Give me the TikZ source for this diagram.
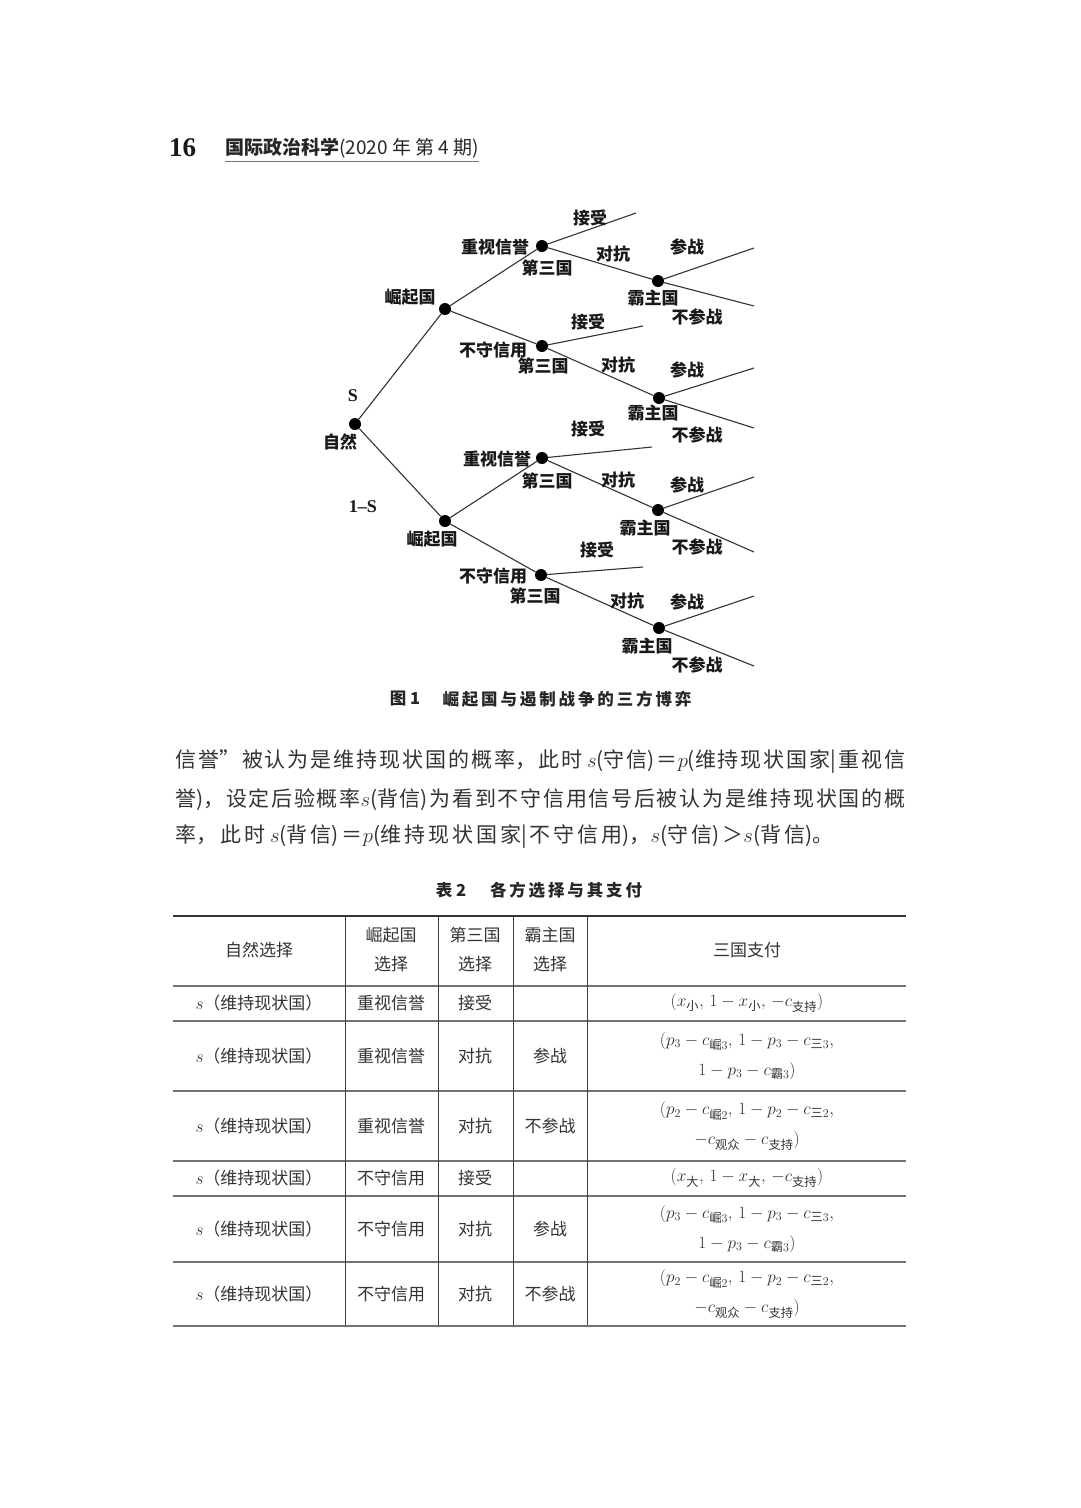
\documentclass[tikz,border=0pt]{standalone}
\usepackage{fontspec}
\usepackage{amsmath}
\newfontfamily\cjk{Noto Sans CJK SC}
\newfontfamily\tnr{Liberation Serif}
\XeTeXlinebreaklocale "zh"
\XeTeXlinebreakskip=0pt plus 3pt minus 1pt
\newcommand\jline[2]{\parbox{#1}{\parfillskip=0pt\relax #2}}
\begin{document}
\begin{tikzpicture}[x=1pt,y=-1pt,
  dot/.style={circle,fill=black,inner sep=0pt,minimum size=12pt},
  br/.style={line width=1.1pt,draw=black!80},
  tl/.style={font=\cjk\bfseries\fontsize{17}{19}\selectfont,inner sep=0pt,text=black!90},
  ltl/.style={font=\tnr\bfseries\fontsize{18}{20}\selectfont,inner sep=0pt,text=black!90},
  body/.style={font=\cjk\fontsize{21}{24}\selectfont,inner sep=0pt,text=black!80,anchor=west},
  captxt/.style={font=\cjk\bfseries\fontsize{16.5}{19}\selectfont,inner sep=0pt,text=black!85},
  cell/.style={font=\cjk\fontsize{17}{29}\selectfont,inner sep=0pt,text=black!80,align=center},
  pay/.style={font=\cjk\fontsize{17.5}{30}\selectfont,inner sep=0pt,text=black!80,align=center},
  hrule/.style={line width=1.5pt,draw=black!55},
  vrule/.style={line width=0.9pt,draw=black!75}]
\fill[white] (0,0) rectangle (1080,1508);
\useasboundingbox (0,0) rectangle (1080,1508);

% header
\node[font=\tnr\bfseries\fontsize{27}{30}\selectfont,inner sep=0pt,anchor=west,text=black!90] (pg) at (169,148) {16};
\node[font=\cjk\fontsize{19}{21}\selectfont,inner sep=0pt,anchor=west,text=black!85] (jt) at (225,148) {{\bfseries 国际政治科学}(2020 年 第 4 期)};
\draw[line width=1pt,black!55] ([yshift=-3pt]jt.south west) -- ([yshift=-3pt]jt.south east);

% tree nodes
\node[dot] (n0) at (355,424) {};
\node[dot] (r1) at (445,309) {};
\node[dot] (r2) at (445,521) {};
\node[dot] (t11) at (542,246) {};
\node[dot] (t12) at (542,346) {};
\node[dot] (t21) at (542,458) {};
\node[dot] (t22) at (541,575) {};
\node[dot] (h11) at (658,281) {};
\node[dot] (h12) at (659,398) {};
\node[dot] (h21) at (658,510) {};
\node[dot] (h22) at (659,628) {};
\coordinate (a11) at (636,213);
\coordinate (a12) at (643,326);
\coordinate (a21) at (652,447);
\coordinate (a22) at (643,567);
\coordinate (w11) at (754,248); \coordinate (q11) at (754,306);
\coordinate (w12) at (754,368); \coordinate (q12) at (754,428);
\coordinate (w21) at (754,477); \coordinate (q21) at (754,552);
\coordinate (w22) at (754,596); \coordinate (q22) at (754,666);

\draw[br] (n0) -- (r1);
\draw[br] (n0) -- (r2);
\draw[br] (r1) -- (t11);
\draw[br] (r1) -- (t12);
\draw[br] (r2) -- (t21);
\draw[br] (r2) -- (t22);
\draw[br] (t11) -- (a11);
\draw[br] (t12) -- (a12);
\draw[br] (t21) -- (a21);
\draw[br] (t22) -- (a22);
\draw[br] (t11) -- (h11);
\draw[br] (t12) -- (h12);
\draw[br] (t21) -- (h21);
\draw[br] (t22) -- (h22);
\draw[br] (h11) -- (w11); \draw[br] (h11) -- (q11);
\draw[br] (h12) -- (w12); \draw[br] (h12) -- (q12);
\draw[br] (h21) -- (w21); \draw[br] (h21) -- (q21);
\draw[br] (h22) -- (w22); \draw[br] (h22) -- (q22);

% tree labels
\node[ltl] (lS) at (353,396) {S};
\node[tl] (lnat) at (340,442) {自然};
\node[ltl] (l1S) at (363,507) {1–S};
\node[tl] (lr1) at (410,297) {崛起国};
\node[tl] (lr2) at (432,539) {崛起国};
\node[tl] (lt11a) at (495,247) {重视信誉};
\node[tl] (lt11b) at (547,268) {第三国};
\node[tl] (lt12a) at (493,350) {不守信用};
\node[tl] (lt12b) at (543,366) {第三国};
\node[tl] (lt21a) at (497,459) {重视信誉};
\node[tl] (lt21b) at (547,481) {第三国};
\node[tl] (lt22a) at (493,576) {不守信用};
\node[tl] (lt22b) at (535,596) {第三国};
\node[tl] (la11) at (590,218) {接受};
\node[tl] (la12) at (588,322) {接受};
\node[tl] (la21) at (588,429) {接受};
\node[tl] (la22) at (597,550) {接受};
\node[tl] (lc11) at (613,254) {对抗};
\node[tl] (lc12) at (618,365) {对抗};
\node[tl] (lc21) at (618,480) {对抗};
\node[tl] (lc22) at (627,601) {对抗};
\node[tl] (lh11) at (653,298) {霸主国};
\node[tl] (lh12) at (653,413) {霸主国};
\node[tl] (lh21) at (645,528) {霸主国};
\node[tl] (lh22) at (647,646) {霸主国};
\node[tl] (lw11) at (687,247) {参战};
\node[tl] (lw12) at (687,370) {参战};
\node[tl] (lw21) at (687,485) {参战};
\node[tl] (lw22) at (687,602) {参战};
\node[tl] (lq11) at (697,317) {不参战};
\node[tl] (lq12) at (697,435) {不参战};
\node[tl] (lq21) at (697,547) {不参战};
\node[tl] (lq22) at (697,665) {不参战};

% figure caption
\node[captxt] (f1a) at (405,699) {图 1};
\node[captxt] (f1b) at (567,699) {\jline{249pt}{崛起国与遏制战争的三方博弈}};

% body text
\node[body] (b1) at (175,762) {\jline{730pt}{信誉”被认为是维持现状国的概率，此时\hspace{5pt}$s$(守信)＝$p$(维持现状国家|重视信}};
\node[body] (b2) at (175,800) {\jline{730pt}{誉)，设定后验概率$s$(背信)为看到不守信用信号后被认为是维持现状国的概}};
\node[body] (b3) at (175,837) {\jline{658pt}{率，此时\hspace{5pt}$s$(背信)＝$p$(维持现状国家|不守信用)，$s$(守信)＞$s$(背信)。}};

% table caption
\node[captxt] (t2a) at (451,890) {表 2};
\node[captxt] (t2b) at (566,890) {\jline{152pt}{各方选择与其支付}};

% table rules
\draw[line width=2.5pt,black!80] (173,916) -- (906,916);
\foreach \yy in {986,1021,1091,1161,1196,1262,1326}
  \draw[hrule] (173,\yy) -- (906,\yy);
\foreach \xx in {345,438,513,587}
  \draw[vrule] (\xx,917) -- (\xx,1325);

% header row
\node[cell] (hc1) at (259,950) {自然选择};
\node[cell] (hc2) at (391,950) {崛起国\\选择};
\node[cell] (hc3) at (475,950) {第三国\\选择};
\node[cell] (hc4) at (550,950) {霸主国\\选择};
\node[cell] (hc5) at (747,950) {三国支付};

% rows
\foreach \yy/\ca/\cb/\cc [count=\i] in {1003/重视信誉/接受/,1056/重视信誉/对抗/参战,1126/重视信誉/对抗/不参战,1178/不守信用/接受/,1229/不守信用/对抗/参战,1294/不守信用/对抗/不参战}{
  \node[cell] (c1r\i) at (259,\yy) {$s$（维持现状国）};
  \node[cell] (c2r\i) at (391,\yy) {\ca};
  \node[cell] (c3r\i) at (475,\yy) {\cb};
  \node[cell] (c4r\i) at (550,\yy) {\cc};
}
\node[pay] (p1) at (747,1003) {$(x_{\text{小}},\,1-x_{\text{小}},\,-c_{\text{支持}})$};
\node[pay] (p2) at (747,1056) {$(p_3-c_{\text{崛}3},\,1-p_3-c_{\text{三}3},$\\$1-p_3-c_{\text{霸}3})$};
\node[pay] (p3) at (747,1126) {$(p_2-c_{\text{崛}2},\,1-p_2-c_{\text{三}2},$\\$-c_{\text{观众}}-c_{\text{支持}})$};
\node[pay] (p4) at (747,1178) {$(x_{\text{大}},\,1-x_{\text{大}},\,-c_{\text{支持}})$};
\node[pay] (p5) at (747,1229) {$(p_3-c_{\text{崛}3},\,1-p_3-c_{\text{三}3},$\\$1-p_3-c_{\text{霸}3})$};
\node[pay] (p6) at (747,1294) {$(p_2-c_{\text{崛}2},\,1-p_2-c_{\text{三}2},$\\$-c_{\text{观众}}-c_{\text{支持}})$};
\end{tikzpicture}
\end{document}
